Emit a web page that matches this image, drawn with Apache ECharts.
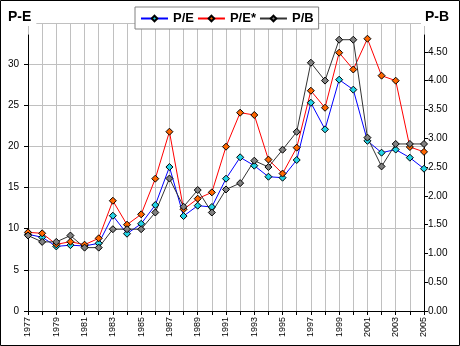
<!DOCTYPE html>
<html><head><meta charset="utf-8">
<script src="https://cdn.jsdelivr.net/npm/echarts@6/dist/echarts.min.js"></script>
<style>html,body{margin:0;padding:0;background:#fff}#c{width:460px;height:346px}</style>
</head><body><div id="c"></div>
<script>
const years = ['1977','1978','1979','1980','1981','1982','1983','1984','1985','1986','1987','1988','1989','1990','1991','1992','1993','1994','1995','1996','1997','1998','1999','2000','2001','2002','2003','2004','2005'];
const pe  = [9.32,8.96,7.85,8.0,7.9,8.23,11.58,9.39,10.6,12.88,17.5,11.54,12.8,12.64,16.08,18.68,17.66,16.32,16.2,18.35,25.31,22.08,28.11,26.9,20.68,19.24,19.62,18.63,17.29];
const peStar = [9.56,9.44,8.1,8.42,8.06,8.83,13.4,10.49,11.75,16.08,21.79,12.36,13.65,14.42,19.97,24.1,23.82,18.4,16.7,19.85,26.77,24.7,31.39,29.35,33.09,28.6,27.99,19.93,19.34];
const pb  = [1.31,1.20,1.20,1.31,1.10,1.10,1.42,1.42,1.42,1.71,2.30,1.81,2.10,1.71,2.11,2.22,2.61,2.50,2.80,3.11,4.31,4.00,4.71,4.71,3.01,2.51,2.90,2.90,2.90];
const leftTicks = [0,5,10,15,20,25,30];
const rightTicks = [0,0.5,1,1.5,2,2.5,3,3.5,4,4.5];

const FONT = 'Liberation Sans, Arial, sans-serif';
const L = 28, R = 460 - 424, TOP_FRAME = 23, TOP_AXIS = 35, B = 346 - 311;
const plotH = 346 - B - TOP_FRAME, axisH = 346 - B - TOP_AXIS;
const leftFull = 35, rightFull = 5;
const leftMax = leftFull * axisH / plotH, rightMax = rightFull * axisH / plotH;

const chart = echarts.init(document.getElementById('c'), null, {renderer:'canvas'});
const sym = (fill) => ({color: fill, borderColor: '#000', borderWidth: 1});
chart.setOption({
  animation: false,
  backgroundColor: '#fff',
  textStyle: {fontFamily: FONT},
  title: [
    {text: 'P-E', left: 8, top: 10, padding: [0, 5, 2, 0], backgroundColor: '#fff', textStyle: {fontFamily: FONT, fontSize: 14, fontWeight: 'bold', color: '#000'}},
    {text: 'P-B', left: 421, top: 10, padding: [0, 2, 2, 4], backgroundColor: '#fff', textStyle: {fontFamily: FONT, fontSize: 14, fontWeight: 'bold', color: '#000'}}
  ],
  legend: {
    left: 135, top: 7, padding: [5, 5, 4, 5], itemGap: 3, itemWidth: 27, itemHeight: 7,
    backgroundColor: '#fff', borderColor: '#808080', borderWidth: 1,
    textStyle: {fontFamily: FONT, fontSize: 13, fontWeight: 'bold', color: '#000'},
    data: ['P/E', 'P/E*', 'P/B']
  },
  graphic: [{type: 'rect', shape: {x: 0.5, y: 0.5, width: 459, height: 345}, style: {fill: 'none', stroke: '#000', lineWidth: 1}, silent: true, z: 100}],
  grid: [
    {left: L, right: R, top: TOP_AXIS, bottom: B},
    {left: L, right: R, top: TOP_FRAME, bottom: B}
  ],
  xAxis: [
    {type: 'category', gridIndex: 0, data: years, boundaryGap: false,
     axisLine: {lineStyle: {color: '#000', width: 1}},
     axisTick: {show: true, interval: 0, length: 4, lineStyle: {color: '#000'}},
     axisLabel: {interval: 1, rotate: 90, fontSize: 9, color: '#000', margin: 6, fontFamily: FONT},
     splitLine: {show: false}},
    {type: 'category', gridIndex: 1, data: years, boundaryGap: false,
     axisLine: {show: false}, axisTick: {show: false}, axisLabel: {show: false},
     splitLine: {show: true, interval: 0, lineStyle: {color: '#C0C0C0', width: 1}}}
  ],
  yAxis: [
    {type: 'value', gridIndex: 0, position: 'left', min: 0, max: leftMax,
     axisLine: {show: true, lineStyle: {color: '#000'}},
     axisTick: {show: true, length: 4, customValues: leftTicks, lineStyle: {color: '#000'}},
     axisLabel: {customValues: leftTicks, fontSize: 10, color: '#000', margin: 9, fontFamily: FONT},
     splitLine: {show: false}},
    {type: 'value', gridIndex: 0, position: 'right', min: 0, max: rightMax,
     axisLine: {show: true, lineStyle: {color: '#000'}},
     axisTick: {show: true, length: 4, customValues: rightTicks, lineStyle: {color: '#000'}},
     axisLabel: {customValues: rightTicks, fontSize: 10, color: '#000', margin: 4, fontFamily: FONT,
       formatter: v => v.toFixed(2)},
     splitLine: {show: false}},
    {type: 'value', gridIndex: 1, min: 0, max: leftFull, interval: 5,
     axisLine: {show: false}, axisTick: {show: false}, axisLabel: {show: false},
     splitLine: {show: true, lineStyle: {color: '#C0C0C0', width: 1}}}
  ],
  series: [
    {name: 'P/E', type: 'line', xAxisIndex: 0, yAxisIndex: 0, data: pe,
     symbol: 'diamond', symbolSize: 7, showAllSymbol: true,
     lineStyle: {color: '#0000FF', width: 1}, itemStyle: sym('#22D3E6'), z: 3},
    {name: 'P/E*', type: 'line', xAxisIndex: 0, yAxisIndex: 0, data: peStar,
     symbol: 'diamond', symbolSize: 7, showAllSymbol: true,
     lineStyle: {color: '#FF0000', width: 1}, itemStyle: sym('#FF6600'), z: 3},
    {name: 'P/B', type: 'line', xAxisIndex: 0, yAxisIndex: 1, data: pb,
     symbol: 'diamond', symbolSize: 7, showAllSymbol: true,
     lineStyle: {color: '#333333', width: 1}, itemStyle: sym('#808080'), z: 3}
  ]
});
</script></body></html>
